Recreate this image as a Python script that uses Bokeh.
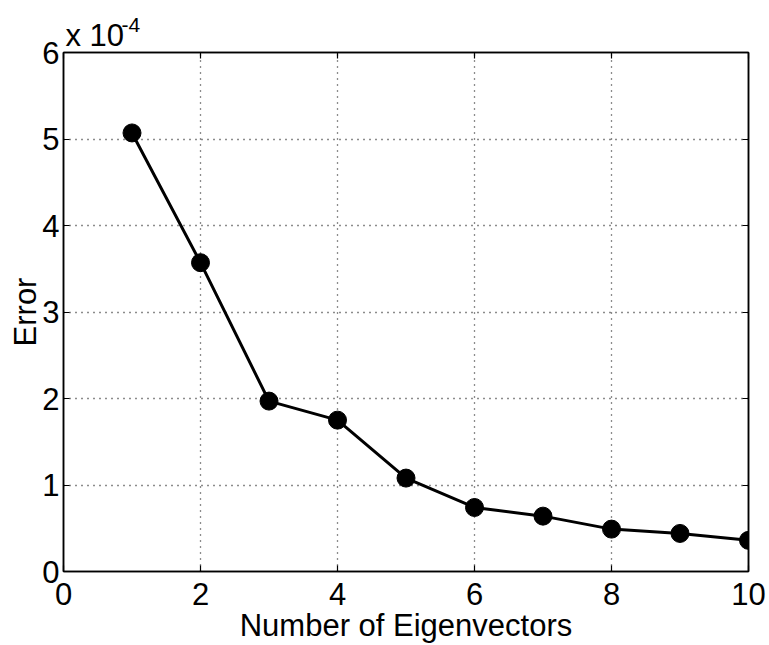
from bokeh.plotting import figure
from bokeh.models import (Range1d, FixedTicker, CustomJSTickFormatter, LinearAxis, Title,
                          ColumnDataSource)
from bokeh.embed import file_html
from bokeh.resources import INLINE

# Data
num_eigenvectors = [1, 2, 3, 4, 5, 6, 7, 8, 9, 10]
error = [5.07e-4, 3.57e-4, 1.97e-4, 1.75e-4, 1.08e-4, 0.74e-4, 0.64e-4, 0.49e-4, 0.44e-4, 0.36e-4]
x_ticks = [0, 2, 4, 6, 8, 10]
y_ticks = [0, 1e-4, 2e-4, 3e-4, 4e-4, 5e-4, 6e-4]
x_label = "Number of Eigenvectors"
y_label = "Error"
multiplier_base = "x 10"
multiplier_exp = "-4"

FONT = "Liberation Sans"
FS = "31px"

p = figure(width=769, height=645, output_backend="svg", toolbar_location=None,
           x_range=Range1d(0, 10), y_range=Range1d(0, 6e-4),
           min_border_left=63, min_border_right=21, min_border_top=52, min_border_bottom=72)
p.background_fill_color = "white"
p.border_fill_color = "white"
p.outline_line_color = "black"
p.outline_line_width = 1.5

xt = FixedTicker(ticks=x_ticks)
yt = FixedTicker(ticks=y_ticks)

p.xaxis.ticker = xt
p.yaxis.ticker = yt
p.yaxis.formatter = CustomJSTickFormatter(code="return String(Math.round(tick*1e4));")

for ax in (p.xaxis[0], p.yaxis[0]):
    ax.major_tick_in = 6
    ax.major_tick_out = 0
    ax.minor_tick_in = 0
    ax.minor_tick_out = 0
    ax.major_tick_line_color = "black"
    ax.major_tick_line_width = 1.2
    ax.axis_line_color = "black"
    ax.axis_line_width = 1.5
    ax.major_label_text_font = FONT
    ax.major_label_text_font_size = FS
    ax.major_label_text_color = "black"
    ax.axis_label_text_font = FONT
    ax.axis_label_text_font_size = FS
    ax.axis_label_text_font_style = "normal"
    ax.axis_label_text_color = "black"

p.xaxis.axis_label = x_label
p.yaxis.axis_label = y_label
p.xaxis.major_label_standoff = 11
p.xaxis.axis_label_standoff = 0
p.yaxis.major_label_standoff = 4
p.yaxis.axis_label_standoff = -4

# right / top axes with inward ticks and no labels
blank = CustomJSTickFormatter(code="return '';")
right = LinearAxis(ticker=FixedTicker(ticks=y_ticks), formatter=blank)
top = LinearAxis(ticker=FixedTicker(ticks=x_ticks), formatter=blank)
for ax in (top, right):
    ax.major_tick_in = 6
    ax.major_tick_out = 0
    ax.minor_tick_in = 0
    ax.minor_tick_out = 0
    ax.major_tick_line_color = "black"
    ax.major_tick_line_width = 1.2
    ax.axis_line_color = "black"
    ax.axis_line_width = 1.5
    ax.major_label_text_font_size = "0px"
    ax.major_label_standoff = 0
p.add_layout(right, "right")

# exponent multiplier as titles above the frame
t1 = Title(text=multiplier_base, align="left", offset=2, standoff=0,
           text_font=FONT, text_font_size=FS, text_font_style="normal", text_color="black")
t2 = Title(text=multiplier_exp, align="left", offset=58, standoff=-32,
           text_font=FONT, text_font_size="21px", text_font_style="normal", text_color="black")
p.add_layout(top, "above")
p.add_layout(t1, "above")
p.add_layout(t2, "above")

# dotted grid
p.xgrid.ticker = FixedTicker(ticks=x_ticks[1:-1])
p.ygrid.ticker = FixedTicker(ticks=y_ticks[1:-1])
for g in (p.xgrid[0], p.ygrid[0]):
    g.grid_line_color = "black"
    g.grid_line_width = 1.3
    g.grid_line_dash = "1 5"
    g.grid_line_alpha = 0.9

src = ColumnDataSource(dict(x=num_eigenvectors, y=error))
p.line("x", "y", source=src, line_color="black", line_width=3)
p.scatter("x", "y", source=src, size=18, fill_color="black", line_color="black")

open("out.html", "w").write(file_html(p, INLINE))
